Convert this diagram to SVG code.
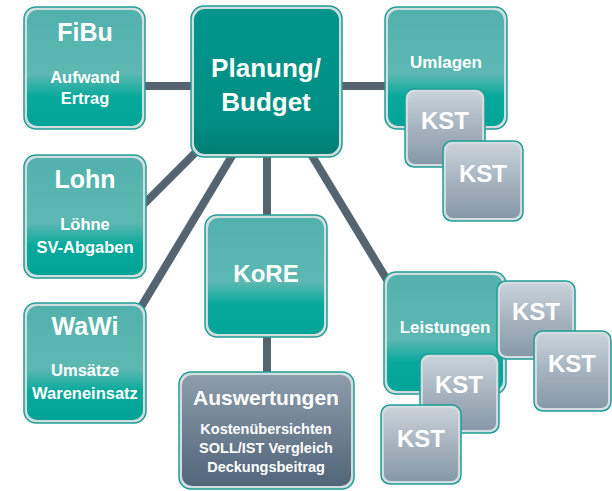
<svg xmlns="http://www.w3.org/2000/svg" width="612" height="491" viewBox="0 0 612 491">
  <defs>
    <linearGradient id="gTeal" x1="0" y1="0" x2="0" y2="1">
      <stop offset="0" stop-color="#52b1ad"/>
      <stop offset="0.55" stop-color="#5db8b2"/>
      <stop offset="0.75" stop-color="#07a99c"/>
      <stop offset="1" stop-color="#00a497"/>
    </linearGradient>
    <linearGradient id="gDark" x1="0" y1="0" x2="0" y2="1">
      <stop offset="0" stop-color="#00958b"/>
      <stop offset="0.75" stop-color="#008f85"/>
      <stop offset="1" stop-color="#007f76"/>
    </linearGradient>
    <linearGradient id="gKst" x1="0" y1="0" x2="0" y2="1">
      <stop offset="0" stop-color="#c9d2d9"/>
      <stop offset="0.5" stop-color="#a6b3be"/>
      <stop offset="1" stop-color="#8799a8"/>
    </linearGradient>
    <linearGradient id="gAusw" x1="0" y1="0" x2="0" y2="1">
      <stop offset="0" stop-color="#8e9dac"/>
      <stop offset="0.5" stop-color="#6e8091"/>
      <stop offset="1" stop-color="#52667a"/>
    </linearGradient>
  </defs>
  <style>
    .frame { fill: #d3dde0; stroke: #1f9d95; stroke-width: 1.5; }
    .teal { fill: url(#gTeal); }
    .dark { fill: url(#gDark); }
    .kst { fill: url(#gKst); }
    .ausw { fill: url(#gAusw); }
    .conn { stroke: #56646f; stroke-width: 8; fill: none; }
    text { font-family: "Liberation Sans", Arial, sans-serif; font-weight: bold; fill: #ffffff; text-anchor: middle; }
    .big { font-size: 25px; }
    .mid { font-size: 16.5px; }
    .k { font-size: 24px; }
  </style>

  <g id="connectors">
    <path class="conn" d="M140 86 H196"/>
    <path class="conn" d="M337 86 H390"/>
    <path class="conn" d="M143 205 L205 143"/>
    <path class="conn" d="M138 312 L238 146"/>
    <path class="conn" d="M267 150 V220"/>
    <path class="conn" d="M267 330 V377"/>
    <path class="conn" d="M306 146 L392 288"/>
  </g>

  <g id="fibu">
    <rect class="frame" x="24" y="7" width="121" height="122" rx="12"/>
    <rect class="teal" x="27" y="10" width="115" height="116" rx="10"/>
    <text class="big" x="85" y="41">FiBu</text>
    <text class="mid" x="85" y="83">Aufwand</text>
    <text class="mid" x="85" y="104">Ertrag</text>
  </g>

  <g id="planung">
    <rect class="frame" x="191" y="6" width="151" height="151" rx="13"/>
    <rect class="dark" x="194" y="9" width="145" height="145" rx="11"/>
    <text style="font-size:26px" x="266" y="77">Planung/</text>
    <text style="font-size:26px" x="266" y="111">Budget</text>
  </g>

  <g id="umlagen">
    <rect class="frame" x="385" y="7" width="122" height="122" rx="12"/>
    <rect class="teal" x="388" y="10" width="116" height="116" rx="10"/>
    <text style="font-size:17px" x="446" y="68">Umlagen</text>
  </g>

  <g id="kst1">
    <rect class="frame" x="405" y="89" width="80" height="78" rx="9"/>
    <rect class="kst" x="408" y="92" width="74" height="72" rx="7"/>
    <text class="k" x="445" y="129">KST</text>
  </g>

  <g id="kst2">
    <rect class="frame" x="443" y="141" width="80" height="80" rx="9"/>
    <rect class="kst" x="446" y="144" width="74" height="74" rx="7"/>
    <text class="k" x="483" y="182">KST</text>
  </g>

  <g id="lohn">
    <rect class="frame" x="24" y="155" width="122" height="123" rx="12"/>
    <rect class="teal" x="27" y="158" width="116" height="117" rx="10"/>
    <text class="big" x="85" y="188">Lohn</text>
    <text class="mid" x="85" y="230">Löhne</text>
    <text class="mid" x="85" y="253">SV-Abgaben</text>
  </g>

  <g id="wawi">
    <rect class="frame" x="24" y="303" width="122" height="120" rx="12"/>
    <rect class="teal" x="27" y="306" width="116" height="114" rx="10"/>
    <text class="big" x="85" y="335">WaWi</text>
    <text class="mid" x="85" y="376">Umsätze</text>
    <text class="mid" x="85" y="399">Wareneinsatz</text>
  </g>

  <g id="kore">
    <rect class="frame" x="205" y="215" width="122" height="122" rx="12"/>
    <rect class="teal" x="208" y="218" width="116" height="116" rx="10"/>
    <text class="k" x="266" y="282">KoRE</text>
  </g>

  <g id="auswertungen">
    <rect class="frame" x="179" y="372" width="175" height="117" rx="12"/>
    <rect class="ausw" x="182" y="375" width="169" height="111" rx="10"/>
    <text style="font-size:21px" x="266" y="405">Auswertungen</text>
    <text style="font-size:14.5px" x="266" y="434">Kostenübersichten</text>
    <text style="font-size:14.5px" x="266" y="453">SOLL/IST Vergleich</text>
    <text style="font-size:14.5px" x="266" y="472">Deckungsbeitrag</text>
  </g>

  <g id="leistungen">
    <rect class="frame" x="384" y="272" width="122" height="122" rx="12"/>
    <rect class="teal" x="387" y="275" width="116" height="116" rx="10"/>
    <text style="font-size:17px" x="445" y="333">Leistungen</text>
  </g>

  <g id="kstA">
    <rect class="frame" x="497" y="281" width="78" height="78" rx="9"/>
    <rect class="kst" x="500" y="284" width="72" height="72" rx="7"/>
    <text class="k" x="536" y="320">KST</text>
  </g>

  <g id="kstB">
    <rect class="frame" x="534" y="331" width="77" height="80" rx="9"/>
    <rect class="kst" x="537" y="334" width="71" height="74" rx="7"/>
    <text class="k" x="572" y="372">KST</text>
  </g>

  <g id="kstC">
    <rect class="frame" x="420" y="354" width="79" height="79" rx="9"/>
    <rect class="kst" x="423" y="357" width="73" height="73" rx="7"/>
    <text class="k" x="459" y="393">KST</text>
  </g>

  <g id="kstD">
    <rect class="frame" x="381" y="405" width="80" height="79" rx="9"/>
    <rect class="kst" x="384" y="408" width="74" height="73" rx="7"/>
    <text class="k" x="421" y="447">KST</text>
  </g>
</svg>
